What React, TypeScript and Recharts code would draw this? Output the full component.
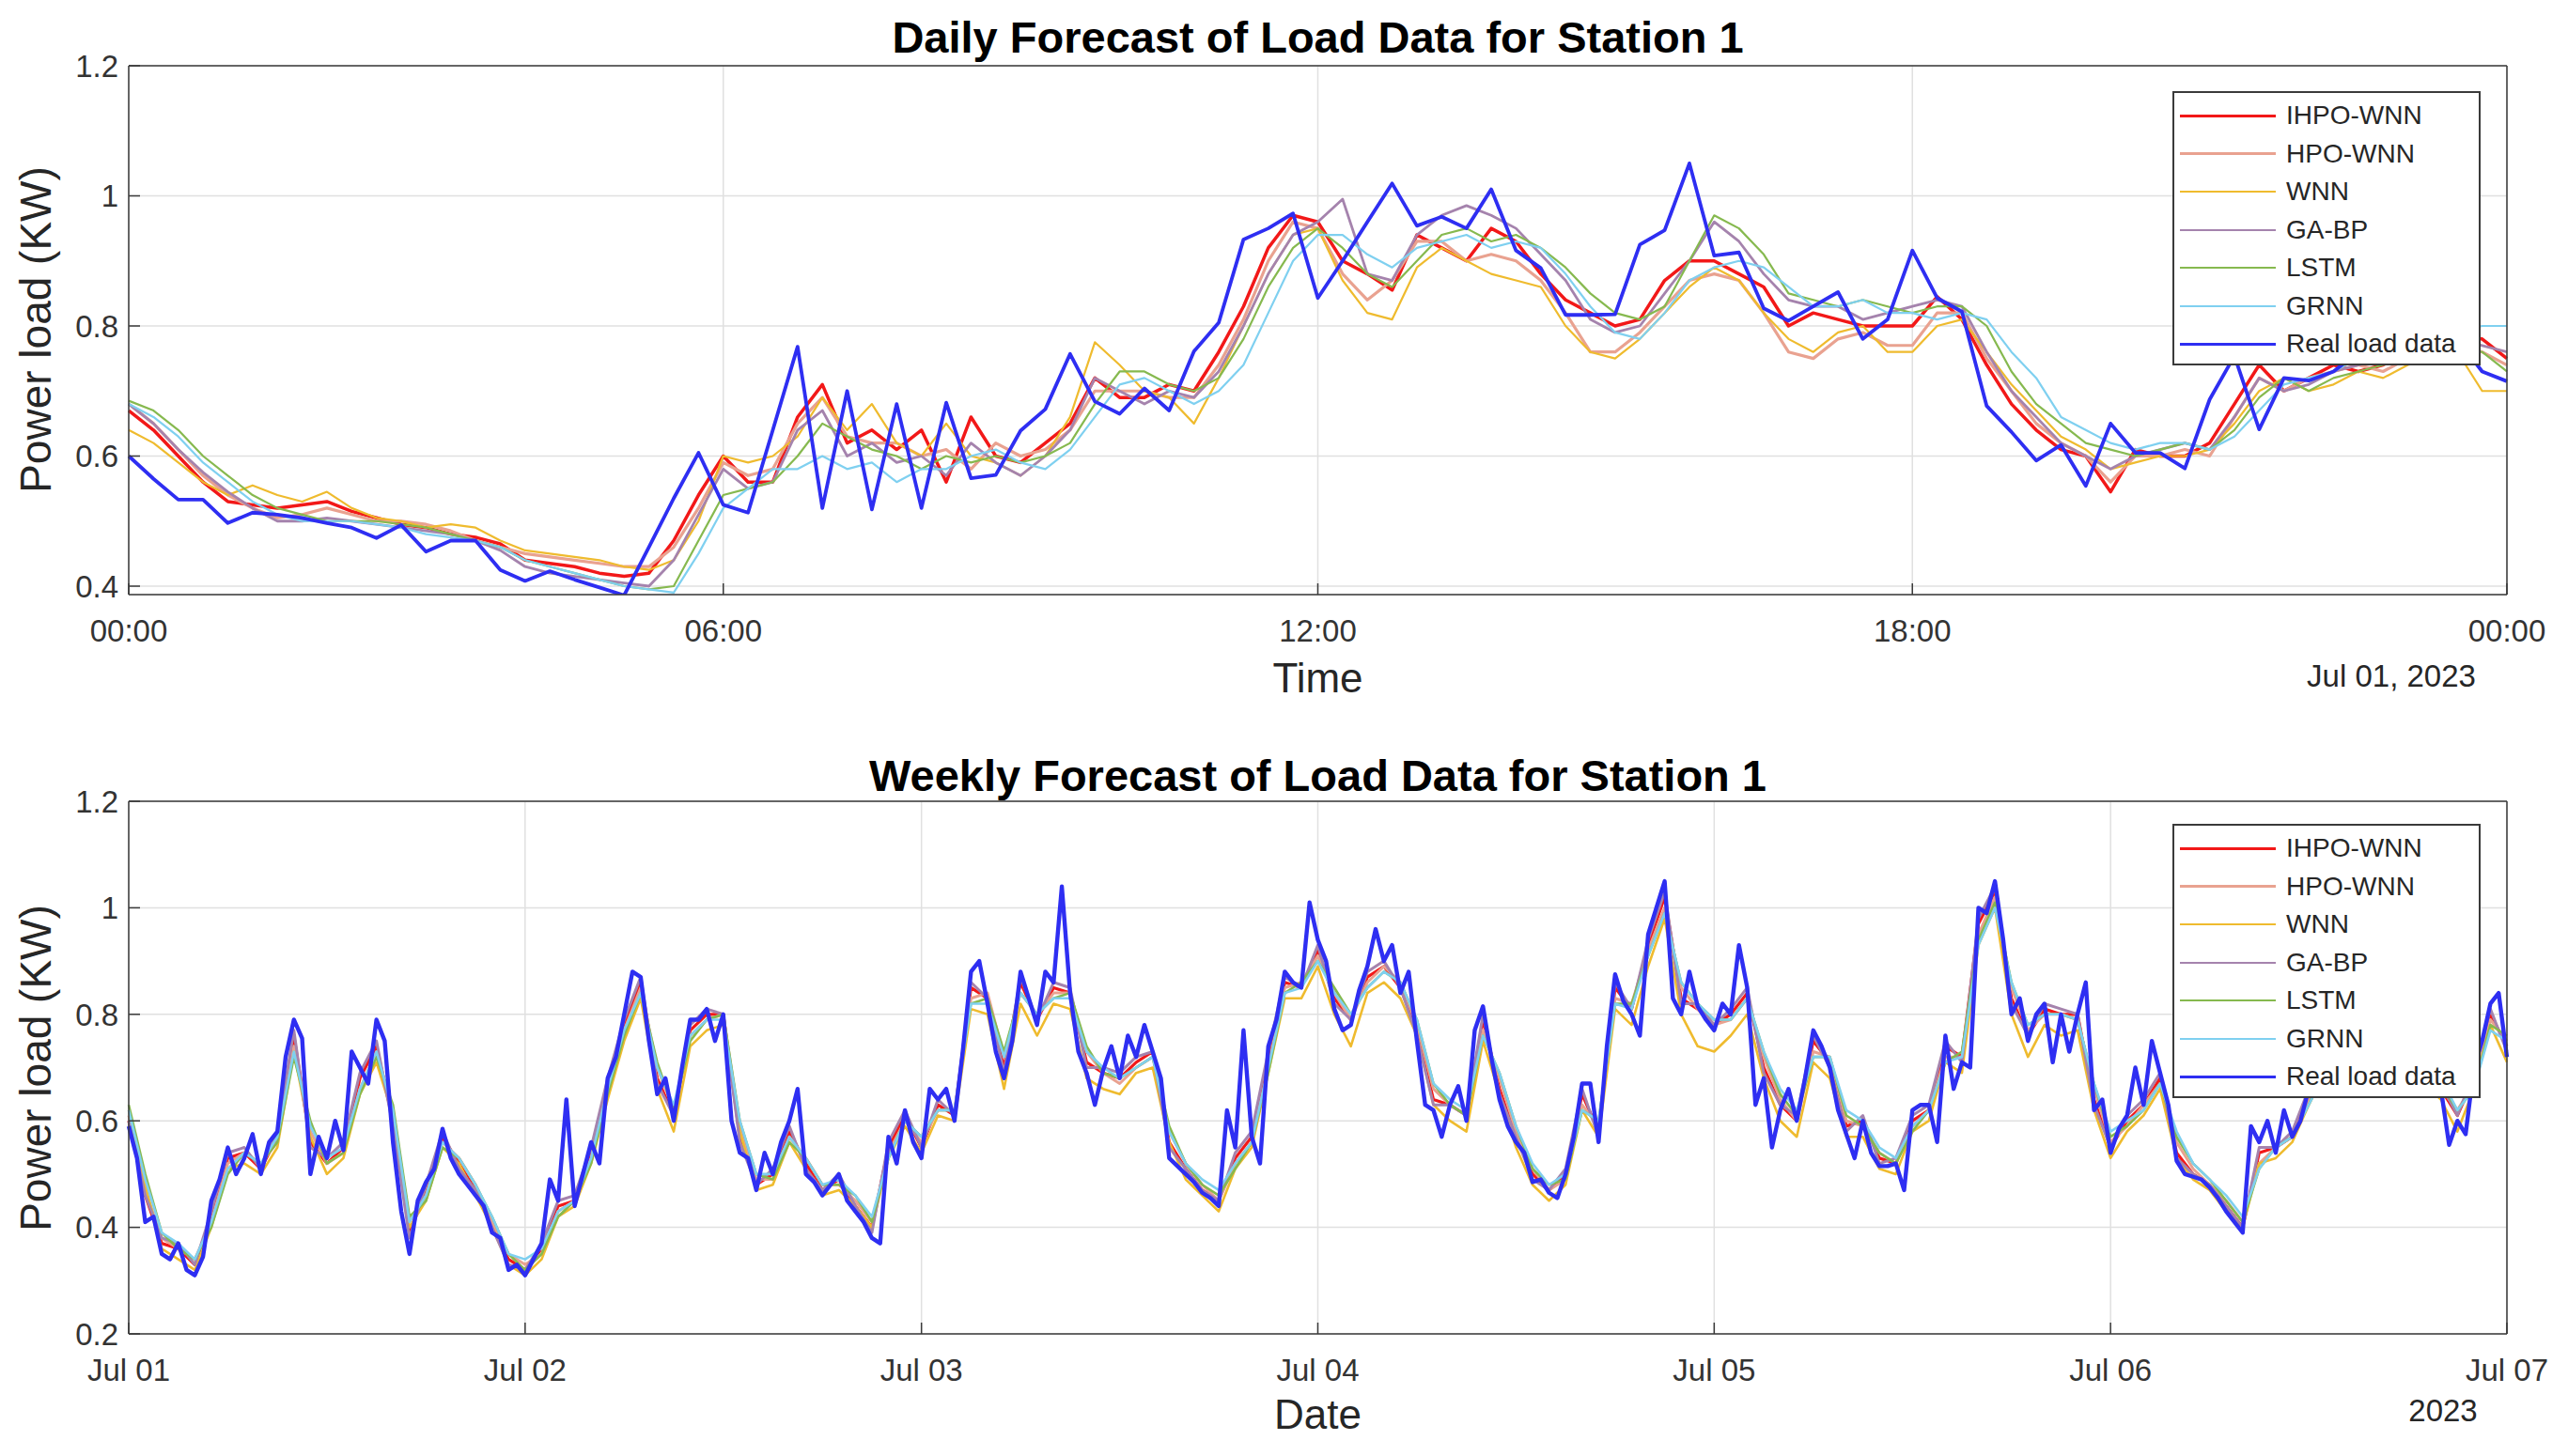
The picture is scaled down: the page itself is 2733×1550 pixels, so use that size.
import React from "react";
import { LineChart, Line, XAxis, YAxis, CartesianGrid, Legend } from "recharts";

const FONT = "'Liberation Sans', Arial, Helvetica, sans-serif";

const seriesNames = ["IHPO-WNN", "HPO-WNN", "WNN", "GA-BP", "LSTM", "GRNN", "Real load data"];
const seriesKeys = ["ihpo", "hpo", "wnn", "gabp", "lstm", "grnn", "real"];
const seriesColors = ["#f21818", "#e9a290", "#efbb2e", "#a583ad", "#86b94f", "#7fd0f0", "#2e2ef2"];
const seriesWidths = [3.5, 3.2, 2.2, 2.8, 2.2, 2.2, 3.8];
const weeklyWidths = [3.2, 3.0, 2.6, 3.0, 2.6, 2.6, 4.4];

// daily forecast, one value every 15 min from 00:00 to 24:00
const dailyTicks = [0, 6, 12, 18, 24];
const dailyTickLabels = ["00:00", "06:00", "12:00", "18:00", "00:00"];
const dailyYTicks = [0.4, 0.6, 0.8, 1.0, 1.2];

const dailyReal = [
  0.600, 0.565, 0.533, 0.533, 0.497, 0.513, 0.510, 0.505,
  0.497, 0.490, 0.474, 0.494, 0.453, 0.470, 0.470, 0.425,
  0.408, 0.423, 0.410, 0.398, 0.386, 0.460, 0.535, 0.605,
  0.525, 0.513, 0.640, 0.768, 0.520, 0.700, 0.518, 0.680,
  0.520, 0.682, 0.566, 0.571, 0.639, 0.672, 0.757, 0.684,
  0.665, 0.704, 0.670, 0.761, 0.805, 0.933, 0.950, 0.973,
  0.843, 0.900, 0.960, 1.019, 0.954, 0.968, 0.950, 1.010,
  0.916, 0.889, 0.817, 0.817, 0.818, 0.925, 0.947, 1.050,
  0.908, 0.913, 0.827, 0.808, 0.830, 0.852, 0.780, 0.810,
  0.916, 0.843, 0.822, 0.677, 0.637, 0.593, 0.617, 0.554,
  0.650, 0.605, 0.605, 0.581, 0.687, 0.754, 0.641, 0.720,
  0.716, 0.730, 0.760, 0.780, 0.790, 0.800, 0.780, 0.730,
  0.715,
];
const dailyIhpo = [
  0.670, 0.640, 0.600, 0.560, 0.530, 0.525, 0.520, 0.525,
  0.530, 0.515, 0.505, 0.495, 0.490, 0.480, 0.475, 0.465,
  0.440, 0.435, 0.430, 0.420, 0.415, 0.420, 0.470, 0.540,
  0.600, 0.560, 0.560, 0.660, 0.710, 0.620, 0.640, 0.610,
  0.640, 0.560, 0.660, 0.600, 0.590, 0.620, 0.650, 0.720,
  0.690, 0.690, 0.710, 0.700, 0.760, 0.830, 0.920, 0.970,
  0.960, 0.900, 0.880, 0.855, 0.940, 0.920, 0.900, 0.950,
  0.930, 0.880, 0.840, 0.820, 0.800, 0.810, 0.870, 0.900,
  0.900, 0.880, 0.860, 0.800, 0.820, 0.810, 0.800, 0.800,
  0.800, 0.845, 0.810, 0.740, 0.680, 0.640, 0.610, 0.600,
  0.545, 0.610, 0.600, 0.600, 0.620, 0.680, 0.740, 0.700,
  0.720, 0.740, 0.730, 0.740, 0.760, 0.770, 0.780, 0.780,
  0.750,
];
const dailyHpo = [
  0.680, 0.650, 0.610, 0.570, 0.540, 0.520, 0.505, 0.510,
  0.520, 0.510, 0.500, 0.500, 0.495, 0.485, 0.470, 0.460,
  0.450, 0.445, 0.440, 0.435, 0.430, 0.430, 0.460, 0.520,
  0.590, 0.570, 0.580, 0.650, 0.690, 0.630, 0.620, 0.620,
  0.600, 0.610, 0.580, 0.620, 0.600, 0.610, 0.640, 0.700,
  0.700, 0.700, 0.690, 0.690, 0.740, 0.810, 0.900, 0.960,
  0.950, 0.880, 0.840, 0.870, 0.930, 0.930, 0.900, 0.910,
  0.900, 0.870, 0.820, 0.760, 0.760, 0.790, 0.830, 0.870,
  0.880, 0.870, 0.820, 0.760, 0.750, 0.780, 0.790, 0.770,
  0.770, 0.820, 0.820, 0.750, 0.700, 0.650, 0.620, 0.600,
  0.560, 0.600, 0.600, 0.610, 0.600, 0.660, 0.720, 0.700,
  0.720, 0.730, 0.740, 0.730, 0.750, 0.760, 0.770, 0.760,
  0.740,
];
const dailyWnn = [
  0.640, 0.620, 0.590, 0.560, 0.540, 0.555, 0.540, 0.530,
  0.545, 0.520, 0.505, 0.500, 0.490, 0.495, 0.490, 0.470,
  0.455, 0.450, 0.445, 0.440, 0.430, 0.425, 0.440, 0.500,
  0.600, 0.590, 0.600, 0.630, 0.690, 0.640, 0.680, 0.620,
  0.600, 0.650, 0.600, 0.590, 0.570, 0.600, 0.660, 0.775,
  0.740, 0.700, 0.690, 0.650, 0.720, 0.800, 0.880, 0.940,
  0.950, 0.870, 0.820, 0.810, 0.890, 0.920, 0.900, 0.880,
  0.870, 0.860, 0.800, 0.760, 0.750, 0.780, 0.820, 0.860,
  0.890, 0.870, 0.820, 0.780, 0.760, 0.790, 0.800, 0.760,
  0.760, 0.800, 0.810, 0.760, 0.710, 0.670, 0.630, 0.610,
  0.580, 0.590, 0.600, 0.600, 0.610, 0.650, 0.700, 0.720,
  0.700, 0.710, 0.730, 0.720, 0.740, 0.750, 0.760, 0.700,
  0.700,
];
const dailyGabp = [
  0.680, 0.650, 0.610, 0.575, 0.545, 0.520, 0.500, 0.500,
  0.505, 0.500, 0.495, 0.490, 0.485, 0.480, 0.470, 0.455,
  0.430, 0.420, 0.415, 0.410, 0.405, 0.400, 0.440, 0.510,
  0.580, 0.550, 0.560, 0.640, 0.670, 0.600, 0.620, 0.590,
  0.600, 0.570, 0.620, 0.590, 0.570, 0.600, 0.640, 0.720,
  0.700, 0.680, 0.700, 0.690, 0.730, 0.800, 0.880, 0.940,
  0.960, 0.995, 0.880, 0.870, 0.940, 0.970, 0.985, 0.970,
  0.950, 0.910, 0.870, 0.810, 0.790, 0.800, 0.850, 0.900,
  0.960, 0.930, 0.880, 0.840, 0.830, 0.830, 0.810, 0.820,
  0.830, 0.840, 0.830, 0.760, 0.700, 0.660, 0.620, 0.600,
  0.580, 0.600, 0.610, 0.620, 0.610, 0.660, 0.720, 0.700,
  0.710, 0.730, 0.740, 0.750, 0.760, 0.770, 0.780, 0.770,
  0.760,
];
const dailyLstm = [
  0.685, 0.670, 0.640, 0.600, 0.570, 0.540, 0.520, 0.510,
  0.500, 0.500, 0.500, 0.495, 0.490, 0.480, 0.470, 0.460,
  0.440, 0.430, 0.420, 0.410, 0.400, 0.395, 0.400, 0.470,
  0.540, 0.550, 0.560, 0.600, 0.650, 0.630, 0.610, 0.600,
  0.580, 0.600, 0.590, 0.600, 0.590, 0.600, 0.620, 0.680,
  0.730, 0.730, 0.710, 0.700, 0.720, 0.780, 0.860, 0.920,
  0.950, 0.920, 0.880, 0.860, 0.900, 0.940, 0.950, 0.930,
  0.940, 0.920, 0.890, 0.850, 0.820, 0.810, 0.830, 0.900,
  0.970, 0.950, 0.910, 0.850, 0.840, 0.830, 0.840, 0.830,
  0.820, 0.830, 0.830, 0.800, 0.730, 0.680, 0.650, 0.620,
  0.610, 0.600, 0.610, 0.620, 0.610, 0.640, 0.690, 0.720,
  0.700, 0.720, 0.730, 0.740, 0.750, 0.760, 0.770, 0.760,
  0.730,
];
const dailyGrnn = [
  0.680, 0.660, 0.630, 0.590, 0.560, 0.530, 0.510, 0.500,
  0.500, 0.500, 0.495, 0.490, 0.480, 0.475, 0.470, 0.460,
  0.440, 0.430, 0.420, 0.410, 0.400, 0.395, 0.390, 0.450,
  0.520, 0.550, 0.580, 0.580, 0.600, 0.580, 0.590, 0.560,
  0.580, 0.580, 0.600, 0.610, 0.590, 0.580, 0.610, 0.660,
  0.710, 0.720, 0.700, 0.680, 0.700, 0.740, 0.820, 0.900,
  0.940, 0.940, 0.910, 0.890, 0.920, 0.930, 0.940, 0.920,
  0.930, 0.920, 0.880, 0.830, 0.790, 0.780, 0.820, 0.870,
  0.890, 0.900, 0.890, 0.860, 0.830, 0.830, 0.840, 0.820,
  0.820, 0.810, 0.820, 0.810, 0.760, 0.720, 0.660, 0.640,
  0.620, 0.610, 0.620, 0.620, 0.610, 0.630, 0.670, 0.710,
  0.720, 0.730, 0.750, 0.760, 0.770, 0.780, 0.790, 0.800,
  0.800,
];

// weekly forecast: real load every 30 min, model outputs every hour, Jul 01 - Jul 07
const weeklyTicks = [0, 1, 2, 3, 4, 5, 6];
const weeklyTickLabels = ["Jul 01", "Jul 02", "Jul 03", "Jul 04", "Jul 05", "Jul 06", "Jul 07"];
const weeklyYTicks = [0.2, 0.4, 0.6, 0.8, 1.0, 1.2];

const weeklyReal = [
  0.59, 0.53, 0.41, 0.42, 0.35, 0.34, 0.37, 0.32, 0.31, 0.345, 0.45, 0.49,
  0.55, 0.50, 0.53, 0.575, 0.50, 0.56, 0.58, 0.72, 0.79, 0.755, 0.50, 0.57,
  0.53, 0.60, 0.545, 0.73, 0.70, 0.67, 0.79, 0.75, 0.56, 0.43, 0.35, 0.45,
  0.485, 0.51, 0.585, 0.53, 0.50, 0.48, 0.46, 0.44, 0.39, 0.38, 0.32, 0.33,
  0.31, 0.34, 0.37, 0.49, 0.45, 0.64, 0.44, 0.50, 0.56, 0.52, 0.68, 0.72,
  0.80, 0.88, 0.87, 0.75, 0.65, 0.68, 0.60, 0.70, 0.79, 0.79, 0.81, 0.75,
  0.80, 0.60, 0.54, 0.53, 0.47, 0.54, 0.50, 0.56, 0.60, 0.66, 0.50, 0.485,
  0.46, 0.48, 0.50, 0.45, 0.43, 0.41, 0.38, 0.37, 0.57, 0.52, 0.62, 0.56,
  0.53, 0.66, 0.64, 0.66, 0.60, 0.73, 0.88, 0.90, 0.82, 0.73, 0.68, 0.75,
  0.88, 0.83, 0.78, 0.88, 0.86, 1.04, 0.84, 0.73, 0.69, 0.63, 0.695, 0.74,
  0.68, 0.76, 0.72, 0.78, 0.73, 0.68, 0.53, 0.515, 0.50, 0.485, 0.465, 0.455,
  0.44, 0.62, 0.55, 0.77, 0.57, 0.52, 0.74, 0.79, 0.88, 0.86, 0.85, 1.01,
  0.94, 0.90, 0.81, 0.77, 0.78, 0.845, 0.89, 0.96, 0.90, 0.93, 0.84, 0.88,
  0.75, 0.63, 0.62, 0.57, 0.63, 0.665, 0.60, 0.77, 0.815, 0.72, 0.64, 0.59,
  0.56, 0.54, 0.485, 0.49, 0.465, 0.455, 0.50, 0.57, 0.67, 0.67, 0.56, 0.74,
  0.875, 0.825, 0.80, 0.76, 0.95, 1.00, 1.05, 0.83, 0.80, 0.88, 0.815, 0.79,
  0.77, 0.82, 0.80, 0.93, 0.85, 0.63, 0.68, 0.55, 0.62, 0.66, 0.60, 0.68,
  0.77, 0.74, 0.70, 0.62, 0.575, 0.53, 0.60, 0.54, 0.515, 0.515, 0.52, 0.47,
  0.62, 0.63, 0.63, 0.56, 0.76, 0.66, 0.71, 0.70, 1.00, 0.99, 1.05, 0.94,
  0.80, 0.83, 0.75, 0.80, 0.82, 0.71, 0.80, 0.73, 0.80, 0.86, 0.62, 0.64,
  0.54, 0.585, 0.61, 0.70, 0.63, 0.75, 0.69, 0.63, 0.525, 0.50, 0.495, 0.49,
  0.475, 0.455, 0.43, 0.41, 0.39, 0.59, 0.56, 0.60, 0.54, 0.62, 0.57, 0.60,
  0.66, 0.70, 0.68, 0.72, 0.70, 0.74, 0.76, 0.72, 0.75, 0.78, 0.74, 0.77,
  0.75, 0.72, 0.70, 0.68, 0.66, 0.555, 0.60, 0.575, 0.70, 0.75, 0.82, 0.84,
  0.72,
];
const weeklyIhpo = [
  0.60, 0.46, 0.37, 0.36, 0.33, 0.42, 0.53, 0.54, 0.51, 0.57, 0.76, 0.56,
  0.52, 0.55, 0.68, 0.74, 0.60, 0.39, 0.47, 0.57, 0.52, 0.47, 0.40, 0.34,
  0.32, 0.36, 0.44, 0.45, 0.54, 0.67, 0.78, 0.86, 0.68, 0.61, 0.77, 0.80,
  0.80, 0.57, 0.48, 0.50, 0.58, 0.52, 0.47, 0.49, 0.44, 0.40, 0.55, 0.61,
  0.55, 0.63, 0.61, 0.85, 0.83, 0.70, 0.86, 0.79, 0.85, 0.84, 0.71, 0.69,
  0.68, 0.71, 0.73, 0.56, 0.51, 0.47, 0.45, 0.53, 0.57, 0.72, 0.86, 0.85,
  0.92, 0.83, 0.79, 0.87, 0.89, 0.85, 0.77, 0.64, 0.63, 0.61, 0.79, 0.66,
  0.57, 0.50, 0.47, 0.50, 0.65, 0.58, 0.85, 0.81, 0.93, 1.02, 0.83, 0.81,
  0.78, 0.80, 0.84, 0.70, 0.63, 0.60, 0.75, 0.71, 0.59, 0.60, 0.53, 0.52,
  0.60, 0.62, 0.74, 0.72, 0.97, 1.03, 0.83, 0.76, 0.81, 0.80, 0.80, 0.64,
  0.55, 0.60, 0.63, 0.68, 0.54, 0.50, 0.48, 0.44, 0.40, 0.54, 0.55, 0.57,
  0.65, 0.71, 0.73, 0.72, 0.77, 0.77, 0.73, 0.69, 0.66, 0.61, 0.68, 0.80,
  0.74,
];
const weeklyHpo = [
  0.61, 0.47, 0.38, 0.36, 0.34, 0.41, 0.52, 0.54, 0.52, 0.56, 0.74, 0.58,
  0.52, 0.54, 0.66, 0.73, 0.62, 0.41, 0.46, 0.56, 0.53, 0.48, 0.41, 0.35,
  0.33, 0.35, 0.43, 0.45, 0.53, 0.66, 0.77, 0.85, 0.70, 0.62, 0.76, 0.79,
  0.80, 0.59, 0.49, 0.49, 0.57, 0.53, 0.48, 0.48, 0.45, 0.41, 0.54, 0.60,
  0.56, 0.62, 0.62, 0.83, 0.84, 0.72, 0.84, 0.80, 0.84, 0.84, 0.73, 0.69,
  0.67, 0.70, 0.72, 0.58, 0.52, 0.48, 0.45, 0.52, 0.56, 0.70, 0.85, 0.86,
  0.91, 0.84, 0.79, 0.86, 0.89, 0.86, 0.78, 0.66, 0.63, 0.61, 0.77, 0.68,
  0.58, 0.51, 0.47, 0.49, 0.63, 0.59, 0.83, 0.82, 0.92, 1.00, 0.85, 0.81,
  0.78, 0.79, 0.83, 0.72, 0.64, 0.60, 0.73, 0.72, 0.60, 0.59, 0.54, 0.52,
  0.59, 0.62, 0.72, 0.72, 0.95, 1.02, 0.85, 0.77, 0.80, 0.80, 0.79, 0.66,
  0.56, 0.59, 0.63, 0.67, 0.56, 0.51, 0.48, 0.45, 0.41, 0.52, 0.55, 0.57,
  0.64, 0.70, 0.73, 0.72, 0.76, 0.77, 0.74, 0.70, 0.66, 0.62, 0.67, 0.79,
  0.75,
];
const weeklyWnn = [
  0.62, 0.48, 0.36, 0.34, 0.32, 0.40, 0.51, 0.52, 0.50, 0.55, 0.73, 0.57,
  0.50, 0.53, 0.65, 0.71, 0.61, 0.40, 0.45, 0.55, 0.52, 0.46, 0.40, 0.33,
  0.31, 0.34, 0.42, 0.44, 0.52, 0.64, 0.75, 0.83, 0.66, 0.58, 0.74, 0.77,
  0.78, 0.58, 0.47, 0.48, 0.56, 0.51, 0.46, 0.47, 0.44, 0.40, 0.53, 0.59,
  0.54, 0.61, 0.60, 0.81, 0.80, 0.66, 0.82, 0.76, 0.82, 0.81, 0.68, 0.66,
  0.65, 0.69, 0.70, 0.56, 0.49, 0.46, 0.43, 0.51, 0.55, 0.69, 0.83, 0.83,
  0.89, 0.80, 0.74, 0.84, 0.86, 0.83, 0.76, 0.63, 0.60, 0.58, 0.75, 0.65,
  0.55, 0.48, 0.45, 0.48, 0.62, 0.57, 0.81, 0.78, 0.89, 0.98, 0.80, 0.74,
  0.73, 0.76, 0.80, 0.68, 0.60, 0.57, 0.71, 0.68, 0.57, 0.57, 0.51, 0.50,
  0.58, 0.60, 0.71, 0.69, 0.93, 1.00, 0.80, 0.72, 0.78, 0.76, 0.77, 0.62,
  0.53, 0.58, 0.61, 0.66, 0.53, 0.49, 0.47, 0.43, 0.40, 0.52, 0.53, 0.56,
  0.63, 0.69, 0.71, 0.70, 0.75, 0.75, 0.71, 0.67, 0.64, 0.58, 0.66, 0.78,
  0.71,
];
const weeklyGabp = [
  0.60, 0.46, 0.38, 0.37, 0.33, 0.43, 0.54, 0.55, 0.51, 0.58, 0.77, 0.55,
  0.53, 0.56, 0.69, 0.75, 0.59, 0.38, 0.48, 0.58, 0.51, 0.47, 0.40, 0.33,
  0.32, 0.37, 0.45, 0.46, 0.55, 0.68, 0.79, 0.87, 0.67, 0.61, 0.78, 0.81,
  0.80, 0.56, 0.48, 0.51, 0.59, 0.51, 0.47, 0.50, 0.44, 0.39, 0.56, 0.62,
  0.55, 0.64, 0.61, 0.86, 0.83, 0.69, 0.87, 0.79, 0.86, 0.85, 0.70, 0.70,
  0.69, 0.72, 0.73, 0.55, 0.51, 0.47, 0.45, 0.54, 0.58, 0.73, 0.87, 0.85,
  0.93, 0.82, 0.79, 0.88, 0.90, 0.85, 0.76, 0.63, 0.63, 0.61, 0.80, 0.65,
  0.57, 0.49, 0.47, 0.51, 0.66, 0.57, 0.86, 0.81, 0.94, 1.03, 0.82, 0.82,
  0.78, 0.81, 0.85, 0.69, 0.63, 0.61, 0.76, 0.70, 0.58, 0.61, 0.52, 0.53,
  0.61, 0.63, 0.75, 0.71, 0.98, 1.04, 0.82, 0.76, 0.82, 0.81, 0.80, 0.63,
  0.55, 0.61, 0.64, 0.69, 0.53, 0.50, 0.48, 0.44, 0.40, 0.55, 0.55, 0.58,
  0.66, 0.72, 0.74, 0.73, 0.78, 0.78, 0.73, 0.69, 0.67, 0.61, 0.69, 0.81,
  0.73,
];
const weeklyLstm = [
  0.63, 0.50, 0.39, 0.36, 0.34, 0.40, 0.50, 0.54, 0.52, 0.56, 0.72, 0.60,
  0.52, 0.54, 0.65, 0.72, 0.63, 0.42, 0.45, 0.55, 0.53, 0.48, 0.42, 0.35,
  0.32, 0.35, 0.42, 0.45, 0.52, 0.65, 0.76, 0.84, 0.71, 0.62, 0.75, 0.79,
  0.80, 0.60, 0.50, 0.49, 0.56, 0.53, 0.48, 0.48, 0.46, 0.41, 0.53, 0.60,
  0.57, 0.62, 0.62, 0.82, 0.83, 0.73, 0.84, 0.80, 0.83, 0.84, 0.74, 0.69,
  0.68, 0.70, 0.72, 0.59, 0.52, 0.48, 0.46, 0.51, 0.56, 0.69, 0.84, 0.86,
  0.90, 0.85, 0.80, 0.85, 0.88, 0.86, 0.79, 0.67, 0.63, 0.61, 0.76, 0.69,
  0.59, 0.51, 0.48, 0.49, 0.62, 0.60, 0.82, 0.82, 0.91, 0.99, 0.86, 0.82,
  0.79, 0.79, 0.83, 0.73, 0.65, 0.61, 0.72, 0.72, 0.61, 0.59, 0.54, 0.52,
  0.58, 0.62, 0.71, 0.73, 0.94, 1.01, 0.86, 0.78, 0.80, 0.80, 0.79, 0.67,
  0.57, 0.59, 0.62, 0.67, 0.57, 0.52, 0.49, 0.45, 0.41, 0.51, 0.55, 0.57,
  0.63, 0.70, 0.73, 0.72, 0.76, 0.77, 0.74, 0.70, 0.67, 0.62, 0.66, 0.78,
  0.76,
];
const weeklyGrnn = [
  0.62, 0.49, 0.39, 0.37, 0.34, 0.41, 0.51, 0.54, 0.52, 0.57, 0.73, 0.59,
  0.53, 0.55, 0.66, 0.73, 0.62, 0.41, 0.46, 0.56, 0.53, 0.48, 0.42, 0.35,
  0.34, 0.36, 0.43, 0.45, 0.53, 0.66, 0.77, 0.84, 0.70, 0.63, 0.76, 0.79,
  0.79, 0.60, 0.50, 0.50, 0.57, 0.53, 0.48, 0.49, 0.46, 0.42, 0.53, 0.60,
  0.57, 0.62, 0.62, 0.82, 0.82, 0.72, 0.84, 0.80, 0.83, 0.83, 0.73, 0.70,
  0.68, 0.70, 0.72, 0.58, 0.52, 0.49, 0.47, 0.52, 0.56, 0.70, 0.84, 0.85,
  0.90, 0.84, 0.80, 0.85, 0.88, 0.86, 0.79, 0.67, 0.64, 0.62, 0.76, 0.69,
  0.59, 0.52, 0.48, 0.50, 0.62, 0.60, 0.82, 0.81, 0.91, 0.99, 0.86, 0.82,
  0.79, 0.79, 0.83, 0.73, 0.66, 0.62, 0.72, 0.72, 0.62, 0.60, 0.55, 0.53,
  0.59, 0.62, 0.71, 0.72, 0.93, 1.00, 0.86, 0.78, 0.80, 0.80, 0.79, 0.67,
  0.58, 0.60, 0.62, 0.67, 0.58, 0.52, 0.49, 0.46, 0.42, 0.51, 0.55, 0.57,
  0.63, 0.69, 0.73, 0.72, 0.76, 0.77, 0.74, 0.71, 0.68, 0.62, 0.66, 0.77,
  0.75,
];

const dailySeries = [dailyIhpo, dailyHpo, dailyWnn, dailyGabp, dailyLstm, dailyGrnn, dailyReal];
const weeklyForecasts = [weeklyIhpo, weeklyHpo, weeklyWnn, weeklyGabp, weeklyLstm, weeklyGrnn];

const dailyRows = dailyReal.map((_, i) => {
  const row: Record<string, number> = { t: i / 4 };
  seriesKeys.forEach((k, s) => {
    row[k] = dailySeries[s][i];
  });
  return row;
});

const weeklyForecastRows = weeklyIhpo.map((_, h) => {
  const row: Record<string, number> = { d: h / 24 };
  weeklyForecasts.forEach((arr, s) => {
    row[seriesKeys[s]] = arr[h];
  });
  return row;
});

const weeklyRealRows = weeklyReal.map((v, j) => ({ d: j / 48, real: v }));

const tickStyle = { fontSize: 33, fill: "#333", fontFamily: FONT };
const axisStroke = "#3a3a3a";
const fmtY = (v: number) => String(Math.round(v * 10) / 10);

function LegendBox() {
  return (
    <div
      style={{
        width: 328,
        height: 292,
        boxSizing: "border-box",
        border: "2px solid #3a3a3a",
        background: "#fff",
        paddingTop: 4,
        fontFamily: FONT,
      }}
    >
      {seriesNames.map((name, i) => (
        <div key={name} style={{ display: "flex", alignItems: "center", height: 40.5 }}>
          <div
            style={{
              marginLeft: 6,
              width: 102,
              height: 0,
              borderTop: `${seriesWidths[i]}px solid ${seriesColors[i]}`,
            }}
          />
          <span style={{ marginLeft: 11, fontSize: 28, color: "#262626", lineHeight: 1, whiteSpace: "nowrap" }}>
            {name}
          </span>
        </div>
      ))}
    </div>
  );
}

function Txt({ x, y, size, bold, rotate, children }: any) {
  return (
    <div
      style={{
        position: "absolute",
        left: x,
        top: y,
        transform: `translate(-50%, -50%)${rotate ? ` rotate(${rotate}deg)` : ""}`,
        fontFamily: FONT,
        fontSize: size,
        fontWeight: bold ? 700 : 400,
        color: bold ? "#000" : "#262626",
        whiteSpace: "nowrap",
        lineHeight: 1,
      }}
    >
      {children}
    </div>
  );
}

function axisProps() {
  return {
    axisLine: { stroke: axisStroke, strokeWidth: 1.5 },
    tickLine: { stroke: axisStroke, strokeWidth: 1.5 },
    tickSize: -12,
  };
}

export default function App() {
  const plotCx = (137 + 2668) / 2;
  return (
    <div style={{ position: "absolute", left: 0, top: 0, width: 2733, height: 1550, background: "#fff", overflow: "hidden" }}>
      {/* daily chart */}
      <div style={{ position: "absolute", left: 0, top: 0 }}>
        <LineChart width={2733} height={775} data={dailyRows} margin={{ top: 69, right: 64, bottom: 0, left: 0 }}>
          <CartesianGrid stroke="#e0e0e0" strokeWidth={1.5} />
          <XAxis
            dataKey="t"
            type="number"
            domain={[0, 24]}
            ticks={dailyTicks}
            tickFormatter={(v: number) => dailyTickLabels[dailyTicks.indexOf(v)]}
            height={142}
            tick={tickStyle}
            tickMargin={39}
            interval={0}
            {...axisProps()}
          />
          <XAxis xAxisId="top" orientation="top" type="number" domain={[0, 24]} ticks={dailyTicks} height={1} tick={false} {...axisProps()} />
          <YAxis
            type="number"
            domain={[0.387, 1.2]}
            ticks={dailyYTicks}
            allowDataOverflow
            width={137}
            tick={tickStyle}
            tickFormatter={fmtY}
            tickMargin={23}
            interval={0}
            {...axisProps()}
          />
          <YAxis yAxisId="right" orientation="right" type="number" domain={[0.387, 1.2]} ticks={dailyYTicks} allowDataOverflow width={1} tick={false} {...axisProps()} />
          {seriesKeys.map((k, i) => (
            <Line
              key={k}
              dataKey={k}
              name={seriesNames[i]}
              type="linear"
              stroke={seriesColors[i]}
              strokeWidth={seriesWidths[i]}
              strokeLinejoin="round"
              dot={false}
              activeDot={false}
              isAnimationActive={false}
            />
          ))}
          <Legend
            layout="vertical"
            align="center"
            verticalAlign="middle"
            content={() => <LegendBox />}
            wrapperStyle={{ left: 2312, top: 97, width: 328, height: 292 }}
          />
        </LineChart>
      </div>

      {/* weekly chart */}
      <div style={{ position: "absolute", left: 0, top: 775 }}>
        <LineChart width={2733} height={775} data={weeklyForecastRows} margin={{ top: 77, right: 64, bottom: 0, left: 0 }}>
          <CartesianGrid stroke="#e0e0e0" strokeWidth={1.5} />
          <XAxis
            dataKey="d"
            type="number"
            domain={[0, 6]}
            ticks={weeklyTicks}
            tickFormatter={(v: number) => weeklyTickLabels[weeklyTicks.indexOf(v)]}
            height={130}
            tick={tickStyle}
            tickMargin={39}
            interval={0}
            {...axisProps()}
          />
          <XAxis xAxisId="top" orientation="top" type="number" domain={[0, 6]} ticks={weeklyTicks} height={1} tick={false} {...axisProps()} />
          <YAxis
            type="number"
            domain={[0.2, 1.2]}
            ticks={weeklyYTicks}
            allowDataOverflow
            width={137}
            tick={tickStyle}
            tickFormatter={fmtY}
            tickMargin={23}
            interval={0}
            {...axisProps()}
          />
          <YAxis yAxisId="right" orientation="right" type="number" domain={[0.2, 1.2]} ticks={weeklyYTicks} allowDataOverflow width={1} tick={false} {...axisProps()} />
          {seriesKeys.slice(0, 6).map((k, i) => (
            <Line
              key={k}
              dataKey={k}
              name={seriesNames[i]}
              type="linear"
              stroke={seriesColors[i]}
              strokeWidth={weeklyWidths[i]}
              strokeLinejoin="round"
              dot={false}
              activeDot={false}
              isAnimationActive={false}
            />
          ))}
          <Line
            data={weeklyRealRows}
            dataKey="real"
            name={seriesNames[6]}
            type="linear"
            stroke={seriesColors[6]}
            strokeWidth={weeklyWidths[6]}
            strokeLinejoin="round"
            dot={false}
            activeDot={false}
            isAnimationActive={false}
          />
          <Legend
            layout="vertical"
            align="center"
            verticalAlign="middle"
            content={() => <LegendBox />}
            wrapperStyle={{ left: 2312, top: 102, width: 328, height: 292 }}
          />
        </LineChart>
      </div>

      <Txt x={plotCx} y={39} size={47} bold>Daily Forecast of Load Data for Station 1</Txt>
      <Txt x={plotCx} y={825} size={47} bold>Weekly Forecast of Load Data for Station 1</Txt>
      <Txt x={38} y={351} size={46} rotate={-90}>Power load (KW)</Txt>
      <Txt x={38} y={1137} size={46} rotate={-90}>Power load (KW)</Txt>
      <Txt x={plotCx} y={722} size={44}>Time</Txt>
      <Txt x={plotCx} y={1506} size={44}>Date</Txt>
      <Txt x={2545} y={719} size={33}>Jul 01, 2023</Txt>
      <Txt x={2600} y={1501} size={33}>2023</Txt>
    </div>
  );
}
